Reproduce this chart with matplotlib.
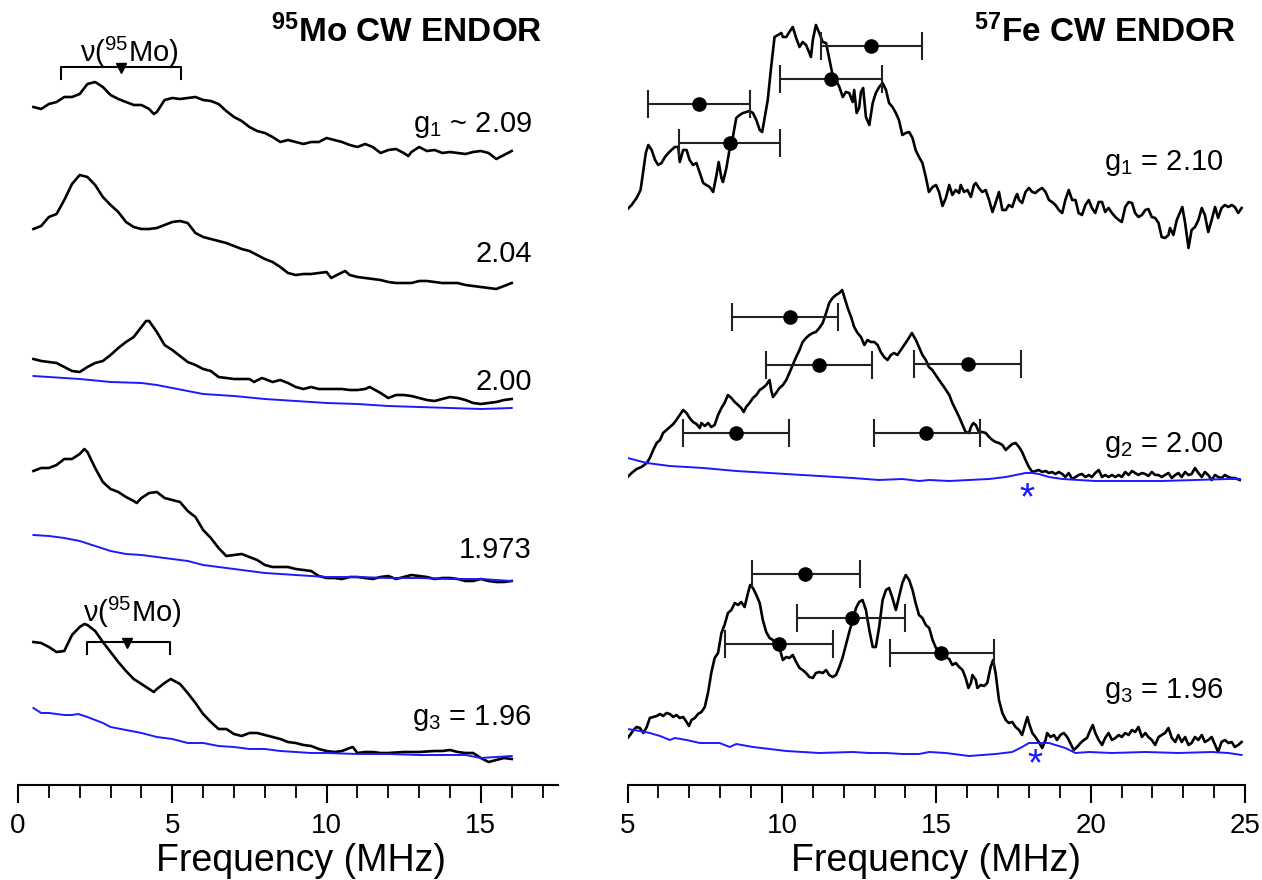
import matplotlib
matplotlib.use("Agg")
import matplotlib.pyplot as plt
import numpy as np

plt.rcParams['font.family'] = ['Liberation Sans', 'DejaVu Sans']
plt.rcParams['mathtext.fontset'] = 'custom'
plt.rcParams['mathtext.rm'] = 'Liberation Sans'
plt.rcParams['mathtext.it'] = 'Liberation Sans:italic'
plt.rcParams['mathtext.bf'] = 'Liberation Sans:bold'

# ---------------- 95Mo CW ENDOR (left) : (frequency MHz, intensity a.u.) ----------------
mo_g209 = [(0.5,678),(0.75,676),(1.0,681),(1.25,683),(1.5,688),(1.75,688),(2.0,691),(2.25,701),(2.5,703),(2.75,698),
           (3.0,690),(3.25,686),(3.5,683),(3.75,680),(4.0,680),(4.25,676),(4.4,671),(4.5,673),(4.75,685),(5.0,687),
           (5.25,686),(5.5,687),(5.75,688),(6.0,685),(6.25,684),(6.5,681),(6.75,674),(7.0,668),(7.25,664),(7.5,658),
           (7.75,654),(8.0,652),(8.25,648),(8.5,643),(8.75,645),(9.0,643),(9.25,641),(9.5,643),(9.75,643),(10.0,647),
           (10.25,645),(10.5,643),(10.75,640),(11.0,638),(11.25,641),(11.5,638),(11.75,632),(12.0,635),(12.25,636),
           (12.5,632),(12.65,629),(12.75,633),(13.0,638),(13.25,634),(13.5,635),(13.75,632),(14.0,633),(14.25,632),
           (14.5,631),(14.75,633),(15.0,634),(15.25,632),(15.5,626),(15.75,630),(16.0,634)]
mo_g204 = [(0.5,556),(0.75,559),(1.0,568),(1.25,571),(1.5,585),(1.75,601),(2.0,610),(2.25,608),(2.5,600),(2.75,588),
           (3.0,580),(3.25,573),(3.5,563),(3.75,558),(4.0,556),(4.25,556),(4.5,557),(4.75,560),(5.0,563),(5.25,564),
           (5.5,562),(5.75,552),(6.0,548),(6.25,546),(6.5,544),(6.75,542),(7.0,539),(7.25,536),(7.5,534),(7.75,530),
           (8.0,526),(8.25,523),(8.5,518),(8.75,512),(9.0,510),(9.25,511),(9.5,511),(9.75,512),(10.0,513),(10.15,507),
           (10.4,511),(10.6,514),(10.75,510),(11.0,508),(11.25,507),(11.5,506),(11.75,505),(12.0,503),(12.25,502),
           (12.5,502),(12.75,502),(13.0,504),(13.25,504),(13.5,503),(13.75,502),(14.0,502),(14.25,502),(14.5,500),
           (14.75,499),(15.0,498),(15.25,497),(15.5,496),(15.75,499),(16.0,502)]
mo_g200 = [(0.5,426),(0.75,424),(1.0,423),(1.25,422),(1.5,418),(1.75,414),(2.0,413),(2.25,418),(2.5,422),(2.75,424),
           (3.0,430),(3.25,437),(3.5,443),(3.75,448),(4.0,458),(4.15,464),(4.25,464),(4.5,453),(4.75,440),(5.0,435),
           (5.25,429),(5.5,423),(5.75,420),(6.0,416),(6.25,414),(6.5,408),(6.75,407),(7.0,406),(7.25,406),(7.5,406),
           (7.65,403),(7.9,407),(8.0,406),(8.25,403),(8.5,405),(8.75,402),(9.0,398),(9.25,396),(9.5,398),(9.75,396),
           (10.0,396),(10.25,396),(10.5,396),(10.75,395),(11.0,395),(11.25,396),(11.4,398),(11.75,392),(12.0,387),
           (12.25,390),(12.5,390),(12.75,389),(13.0,387),(13.25,385),(13.5,384),(13.75,386),(14.0,388),(14.25,387),
           (14.5,385),(14.75,382),(15.0,381),(15.25,382),(15.5,383),(15.75,385),(16.0,386)]
mo_g200_ref = [(0.5,409),(1.0,408),(2.0,406),(3.0,403),(4.0,402),(4.5,400),(5.0,397),(6.0,391),(7.0,389),(8.0,386),
               (9.0,384),(10.0,382),(11.0,381),(12.0,379),(13.0,378),(14.0,377),(15.0,376),(16.0,377)]
mo_g1973 = [(0.5,314),(0.75,317),(1.0,317),(1.25,320),(1.5,326),(1.75,326),(2.0,331),(2.15,336),(2.25,333),(2.5,317),
            (2.75,303),(3.0,296),(3.25,293),(3.5,288),(3.75,284),(3.85,282),(4.0,287),(4.25,292),(4.5,293),(4.75,287),
            (5.0,285),(5.25,283),(5.5,274),(5.75,268),(6.0,255),(6.25,247),(6.5,237),(6.75,229),(7.0,230),(7.25,231),
            (7.5,228),(7.75,225),(8.0,220),(8.25,218),(8.5,218),(8.75,218),(9.0,216),(9.25,215),(9.5,214),(9.75,209),
            (10.0,207),(10.25,207),(10.5,206),(10.75,208),(11.0,208),(11.25,207),(11.5,206),(11.75,208),(12.0,209),
            (12.25,206),(12.5,208),(12.75,210),(13.0,209),(13.25,208),(13.5,206),(13.75,207),(14.0,207),(14.25,206),
            (14.5,204),(14.75,204),(15.0,206),(15.25,204),(15.5,203),(15.75,203),(16.0,204)]
mo_g1973_ref = [(0.5,250),(1.0,249),(1.5,247),(2.0,244),(2.5,239),(3.0,234),(3.5,231),(4.0,230),(4.5,228),(5.0,226),
                (5.5,224),(6.0,220),(6.5,218),(7.0,216),(8.0,212),(9.0,210),(10.0,208),(11.0,208),(12.0,207),
                (13.0,207),(14.0,206),(15.0,206),(16.0,204)]
mo_g196 = [(0.5,143),(0.75,142),(1.0,138),(1.25,133),(1.5,134),(1.75,150),(2.0,158),(2.15,161),(2.25,160),(2.5,154),
           (2.75,143),(3.0,133),(3.25,123),(3.5,114),(3.75,106),(4.0,101),(4.25,96),(4.4,93),(4.5,96),(4.75,102),
           (4.95,106),(5.25,101),(5.5,92),(5.75,82),(6.0,71),(6.25,63),(6.5,56),(6.75,56),(7.0,51),(7.25,49),
           (7.5,52),(7.75,52),(8.0,50),(8.25,48),(8.5,46),(8.75,43),(9.0,42),(9.25,40),(9.5,39),(9.75,36),
           (10.0,34),(10.25,33),(10.5,34),(10.75,37),(10.85,38),(11.0,32),(11.25,33),(11.5,33),(11.75,32),(12.0,32),
           (12.5,33),(13.0,33),(13.5,34),(13.75,34),(14.0,35),(14.25,33),(14.5,32),(14.75,32),(15.0,27),(15.25,23),
           (15.5,25),(15.75,27),(16.0,26)]
mo_g196_ref = [(0.5,77),(0.75,72),(1.0,72),(1.25,71),(1.5,70),(1.75,70),(1.95,71),(2.25,68),(2.5,65),(2.75,62),
               (3.0,58),(3.5,55),(4.0,52),(4.5,48),(5.0,46),(5.5,42),(6.0,42),(6.5,39),(7.0,38),(7.5,36),(8.0,36),
               (8.5,34),(9.0,33),(9.5,32),(10.0,32),(11.0,31),(12.0,31),(13.0,30),(14.0,30),(14.5,30),(15.0,27),
               (15.5,28),(16.0,29)]

mo_labels = ["g$_{\\mathregular{1}}$ ~ 2.09", "2.04", "2.00", "1.973", "g$_{\\mathregular{3}}$ = 1.96"]
mo_label_y = [653, 523, 395, 227, 60]

# nu(95Mo) brackets: left, right, center (triangle), line height, text x, text baseline
nu_left = [1.38, 2.22]
nu_right = [5.29, 4.91]
nu_center = [3.35, 3.52]
nu_y = [718, 143]
nu_text_x = [3.6, 3.69]
nu_text_y = [723, 163]

# ---------------- 57Fe CW ENDOR (right) ----------------
fe_g210 = [(5.00,576),(5.13,580),(5.29,587),(5.42,595),(5.51,615),(5.59,632),(5.67,640),(5.78,635),(5.89,625),(5.99,620),
           (6.10,622),(6.21,628),(6.32,632),(6.42,635),(6.53,638),(6.64,638),(6.69,623),(6.80,635),(6.91,635),(7.01,625),
           (7.12,620),(7.23,622),(7.34,612),(7.45,602),(7.55,600),(7.66,598),(7.77,593),(7.88,610),(7.95,623),(8.04,607),
           (8.09,603),(8.20,617),(8.31,637),(8.41,648),(8.52,667),(8.63,670),(8.74,672),(8.84,673),(8.95,674),(9.06,672),
           (9.17,665),(9.28,655),(9.36,653),(9.44,667),(9.54,685),(9.65,718),(9.76,748),(9.87,750),(9.98,752),(10.03,748),
           (10.14,748),(10.24,753),(10.35,758),(10.46,747),(10.57,738),(10.67,743),(10.78,740),(10.89,732),(10.94,728),
           (11.00,745),(11.10,760),(11.21,752),(11.32,743),(11.43,742),(11.53,727),(11.64,710),(11.75,705),(11.86,698),
           (11.97,688),(12.07,693),(12.18,692),(12.29,683),(12.34,695),(12.42,672),(12.50,677),(12.56,693),(12.63,697),
           (12.72,668),(12.83,660),(12.94,682),(13.04,692),(13.15,698),(13.26,702),(13.37,695),(13.47,682),(13.58,678),
           (13.69,672),(13.79,665),(13.90,650),(14.01,652),(14.12,653),(14.23,647),(14.33,635),(14.44,628),(14.55,622),
           (14.66,608),(14.76,593),(14.88,598),(14.99,600),(15.09,593),(15.20,579),(15.31,587),(15.42,600),(15.52,590),
           (15.63,595),(15.74,592),(15.79,600),(15.90,593),(16.01,595),(16.12,588),(16.22,600),(16.28,602),(16.38,597),
           (16.49,593),(16.60,595),(16.71,585),(16.82,573),(16.92,582),(17.03,593),(17.14,575),(17.25,575),(17.35,580),
           (17.46,578),(17.57,588),(17.62,591),(17.68,585),(17.78,582),(17.89,593),(18.00,597),(18.11,593),(18.21,592),
           (18.32,595),(18.43,597),(18.54,593),(18.65,585),(18.75,583),(18.86,580),(18.97,575),(19.08,572),(19.18,585),
           (19.29,595),(19.40,585),(19.51,585),(19.61,572),(19.72,570),(19.83,580),(19.94,585),(20.04,577),(20.15,572),
           (20.26,583),(20.37,583),(20.47,573),(20.58,577),(20.69,572),(20.80,568),(20.91,565),(21.01,563),(21.12,578),
           (21.23,583),(21.34,582),(21.44,572),(21.55,568),(21.66,570),(21.77,575),(21.87,576),(21.98,568),(22.09,567),
           (22.20,562),(22.30,548),(22.41,547),(22.52,550),(22.57,557),(22.68,550),(22.79,565),(22.90,573),(22.97,578),
           (23.06,562),(23.17,537),(23.27,555),(23.38,558),(23.49,565),(23.60,577),(23.70,570),(23.81,553),(23.92,565),
           (24.03,578),(24.13,567),(24.24,577),(24.35,580),(24.46,578),(24.57,580),(24.67,578),(24.78,572),(24.89,577)]

fe_g200 = [(5.00,308),(5.13,312),(5.29,316),(5.45,318),(5.62,322),(5.72,327),(5.83,335),(5.94,342),(6.05,345),(6.15,352),
           (6.26,355),(6.37,358),(6.48,361),(6.58,365),(6.69,370),(6.80,375),(6.91,372),(7.01,367),(7.12,363),(7.23,361),
           (7.34,357),(7.39,362),(7.50,359),(7.61,362),(7.71,358),(7.82,360),(7.93,370),(8.04,377),(8.14,382),(8.25,390),
           (8.36,387),(8.47,383),(8.58,380),(8.68,377),(8.76,373),(8.84,378),(8.95,382),(9.06,387),(9.17,390),(9.28,395),
           (9.38,397),(9.49,400),(9.60,405),(9.65,395),(9.71,388),(9.81,392),(9.92,397),(10.03,400),(10.14,405),(10.24,412),
           (10.35,420),(10.46,428),(10.57,435),(10.67,443),(10.78,447),(10.89,450),(11.00,452),(11.10,453),(11.21,457),
           (11.32,462),(11.43,472),(11.53,482),(11.64,487),(11.75,490),(11.86,492),(11.95,495),(12.02,488),(12.13,477),
           (12.24,468),(12.34,458),(12.45,452),(12.56,448),(12.67,440),(12.77,445),(12.88,443),(12.99,443),(13.10,440),
           (13.20,433),(13.31,428),(13.42,425),(13.53,430),(13.63,432),(13.74,430),(13.85,435),(13.96,440),(14.07,445),
           (14.21,452),(14.34,445),(14.45,437),(14.55,430),(14.66,425),(14.76,418),(14.87,415),(14.98,410),(15.09,405),
           (15.25,398),(15.42,390),(15.52,382),(15.63,375),(15.74,368),(15.85,360),(15.95,353),(16.06,352),(16.12,358),
           (16.20,362),(16.28,360),(16.38,353),(16.49,353),(16.60,352),(16.71,348),(16.82,345),(16.92,343),(17.03,342),
           (17.14,340),(17.25,335),(17.35,338),(17.46,341),(17.57,342),(17.68,338),(17.78,333),(17.89,325),(18.00,318),
           (18.11,313),(18.21,314),(18.32,315),(18.43,313),(18.54,314),(18.65,312),(18.75,313),(18.86,311),(18.97,313),
           (19.08,311),(19.18,308),(19.29,312),(19.40,306),(19.51,308),(19.61,310),(19.72,311),(19.83,308),(19.94,310),
           (20.04,308),(20.15,312),(20.26,315),(20.37,308),(20.47,310),(20.58,308),(20.69,310),(20.80,308),(20.91,310),
           (21.01,308),(21.12,313),(21.23,310),(21.34,314),(21.44,312),(21.55,310),(21.66,312),(21.77,311),(21.87,309),
           (21.98,313),(22.09,310),(22.20,310),(22.30,308),(22.41,310),(22.52,312),(22.63,307),(22.74,310),(22.84,312),
           (22.95,308),(23.06,313),(23.17,310),(23.27,311),(23.38,317),(23.49,312),(23.60,308),(23.70,313),(23.81,310),
           (23.92,305),(24.03,310),(24.13,308),(24.24,307),(24.35,310),(24.46,308),(24.57,307),(24.67,307),(24.83,305)]
fe_g200_ref = [(5.00,327),(5.62,322),(6.37,319),(7.45,317),(8.52,314),(9.60,312),(10.67,310),(11.75,308),(12.29,307),
               (13.15,305),(13.90,306),(14.45,304),(14.77,305),(15.42,304),(16.06,305),(16.71,306),(17.25,308),
               (17.57,310),(17.89,312),(18.11,312),(18.32,311),(18.65,308),(19.08,306),(19.61,305),(20.15,304),
               (21.23,304),(22.30,304),(23.38,305),(24.46,306),(24.83,306)]

fe_g196 = [(5.00,47),(5.08,50),(5.19,55),(5.29,58),(5.40,57),(5.51,52),(5.62,58),(5.72,67),(5.83,68),(5.94,69),
           (6.05,71),(6.15,69),(6.26,72),(6.37,71),(6.48,68),(6.58,70),(6.69,67),(6.80,68),(6.91,63),(6.99,59),
           (7.07,65),(7.18,67),(7.28,71),(7.39,73),(7.50,78),(7.61,93),(7.71,112),(7.82,127),(7.93,132),(8.04,152),
           (8.14,160),(8.25,172),(8.36,175),(8.47,182),(8.58,180),(8.68,183),(8.79,178),(8.90,192),(8.97,200),(9.06,197),
           (9.17,190),(9.28,182),(9.38,165),(9.49,153),(9.60,147),(9.71,145),(9.81,138),(9.92,137),(10.03,125),(10.14,128),
           (10.24,127),(10.35,130),(10.46,123),(10.57,117),(10.67,115),(10.78,112),(10.89,108),(11.00,107),(11.10,112),
           (11.21,113),(11.32,112),(11.43,115),(11.53,110),(11.64,108),(11.75,110),(11.86,118),(11.97,128),(12.07,140),
           (12.18,153),(12.29,165),(12.40,177),(12.50,183),(12.61,185),(12.72,175),(12.83,155),(12.94,138),(13.04,138),
           (13.15,158),(13.26,185),(13.37,195),(13.47,197),(13.58,187),(13.69,175),(13.79,188),(13.90,202),(14.01,210),
           (14.12,205),(14.23,195),(14.33,182),(14.44,170),(14.55,167),(14.66,160),(14.77,157),(14.88,145),(14.99,137),
           (15.15,132),(15.31,128),(15.42,126),(15.52,120),(15.63,122),(15.74,118),(15.85,115),(15.95,107),(16.04,97),
           (16.12,102),(16.17,110),(16.28,105),(16.33,97),(16.44,100),(16.55,99),(16.65,102),(16.76,118),(16.84,125),
           (16.92,112),(17.03,85),(17.14,72),(17.25,65),(17.35,62),(17.46,63),(17.57,58),(17.68,55),(17.78,50),(17.89,62),
           (17.95,68),(18.00,62),(18.11,52),(18.21,48),(18.32,43),(18.43,37),(18.54,45),(18.59,52),(18.70,48),(18.81,50),
           (18.91,45),(19.02,50),(19.13,52),(19.24,48),(19.34,42),(19.45,35),(19.56,38),(19.67,42),(19.78,45),(19.88,47),
           (19.99,55),(20.07,60),(20.15,52),(20.26,45),(20.37,40),(20.47,47),(20.58,52),(20.69,45),(20.80,47),(20.91,50),
           (21.01,48),(21.12,52),(21.23,50),(21.34,55),(21.44,53),(21.55,58),(21.66,48),(21.77,52),(21.87,48),(21.98,45),
           (22.09,40),(22.20,48),(22.30,50),(22.41,52),(22.52,57),(22.63,47),(22.74,43),(22.84,50),(22.95,43),(23.06,48),
           (23.17,40),(23.27,42),(23.38,48),(23.49,45),(23.60,50),(23.70,43),(23.81,45),(23.92,48),(24.03,40),(24.13,33),
           (24.24,43),(24.35,45),(24.46,42),(24.57,43),(24.67,38),(24.78,40),(24.89,43)]
fe_g196_ref = [(5.00,56),(5.40,54),(5.72,52),(6.05,49),(6.37,45),(6.53,47),(6.91,45),(7.34,42),(7.98,42),(8.31,38),
               (8.52,41),(9.06,38),(10.14,34),(11.21,32),(12.29,33),(12.83,32),(13.37,32),(13.90,31),(14.44,31),
               (14.77,33),(15.31,32),(16.06,29),(16.92,31),(17.46,33),(17.78,38),(18.00,42),(18.32,42),(18.65,42),
               (18.86,40),(19.18,37),(19.51,32),(19.94,33),(20.69,32),(21.77,33),(22.84,32),(23.92,33),(24.46,32),
               (24.89,30)]

fe_labels = ["g$_{\\mathregular{1}}$ = 2.10", "g$_{\\mathregular{2}}$ = 2.00", "g$_{\\mathregular{3}}$ = 1.96"]
fe_label_y = [615, 333, 87]

# error bars: centre (dot), left end, right end, height
eb_x     = [7.32, 8.31, 11.59, 12.90, 10.26, 11.21, 16.03, 8.52, 14.66, 10.76, 12.26, 9.90, 15.15]
eb_left  = [5.67, 6.67,  9.94, 11.27,  8.38,  9.49, 14.28, 6.80, 12.99,  9.03, 10.49, 8.14, 13.50]
eb_right = [8.96, 9.94, 13.23, 14.55, 11.83, 12.93, 17.74, 10.24, 16.41, 12.53, 13.99, 11.64, 16.87]
eb_y     = [681, 642, 706, 739, 468, 420, 421, 352, 352, 211, 167, 141, 132]

# asterisks (blue), glyph centres
star_x = [17.93, 18.19]
star_y = [298, 32]

# ---------------- figure ----------------
W, H = 1262, 880
fig = plt.figure(figsize=(W / 100, H / 100), dpi=100)
bottom = (H - 785) / H
axL = fig.add_axes([18 / W, bottom, 540 / W, 785 / H])
axR = fig.add_axes([627.6 / W, bottom, 617.4 / W, 785 / H])

BLACK_LW = 1.9
BLUE_LW = 1.4
BLUE = '#1a1aff'


def xy(pairs):
    a = np.array(pairs, dtype=float)
    return a[:, 0], a[:, 1]


for tr in [mo_g209, mo_g204, mo_g200, mo_g1973, mo_g196]:
    x, y = xy(tr)
    axL.plot(x, y, color='black', lw=BLACK_LW, solid_joinstyle='round')
for tr in [mo_g200_ref, mo_g1973_ref, mo_g196_ref]:
    x, y = xy(tr)
    axL.plot(x, y, color=BLUE, lw=BLUE_LW)

for lab, yy in zip(mo_labels, mo_label_y):
    axL.text(16.65, yy, lab, ha='right', va='baseline', fontsize=21)

tick_drop = 12
for l, r, c, yy, tx, ty in zip(nu_left, nu_right, nu_center, nu_y, nu_text_x, nu_text_y):
    axL.plot([l, l, r, r], [yy - tick_drop, yy, yy, yy - tick_drop], color='black', lw=1.5)
    axL.plot([c], [yy - 1], marker='v', color='black', markersize=7)
    axL.text(tx, ty, "ν($^{\\mathregular{95}}$Mo)", ha='center', va='baseline', fontsize=21)

axL.text(17.0, 743, "$^{\\mathbf{95}}$Mo CW ENDOR", ha='right', va='baseline', fontsize=24,
         fontweight='bold')

for tr in [fe_g210, fe_g200, fe_g196]:
    x, y = xy(tr)
    axR.plot(x, y, color='black', lw=BLACK_LW, solid_joinstyle='round')
for tr in [fe_g200_ref, fe_g196_ref]:
    x, y = xy(tr)
    axR.plot(x, y, color=BLUE, lw=BLUE_LW)

ebx = np.array(eb_x)
xerr = np.vstack([ebx - np.array(eb_left), np.array(eb_right) - ebx])
axR.errorbar(ebx, eb_y, xerr=xerr, fmt='o', color='black', ecolor='#222222', elinewidth=1.5,
             capsize=10, capthick=1.5, markersize=9.5, zorder=5)

# the '*' glyph sits about 0.58 em above the baseline; shift the baseline down accordingly
STAR_FS = 28
for sx, sy in zip(star_x, star_y):
    axR.annotate('*', (sx, sy), xytext=(0, -0.58 * STAR_FS), textcoords='offset points',
                 color=BLUE, ha='center', va='baseline', fontsize=STAR_FS)

for lab, yy in zip(fe_labels, fe_label_y):
    axR.text(24.3, yy, lab, ha='right', va='baseline', fontsize=21)

axR.text(24.72, 743, "$^{\\mathbf{57}}$Fe CW ENDOR", ha='right', va='baseline', fontsize=24,
         fontweight='bold')

# axes styling
for ax, lim, majors in [(axL, (0, 17.5), [0, 5, 10, 15]), (axR, (5, 25), [5, 10, 15, 20, 25])]:
    ax.set_xlim(*lim)
    ax.set_ylim(0, 785)
    for s in ['left', 'right', 'top']:
        ax.spines[s].set_visible(False)
    ax.spines['bottom'].set_linewidth(1.5)
    ax.set_yticks([])
    ax.set_xticks(majors)
    ax.tick_params(axis='x', which='major', direction='out', length=13, width=1.5, labelsize=20, pad=7)
    ax.tick_params(axis='x', which='minor', direction='out', length=9, width=1.3)
    ax.patch.set_alpha(0)

axL.set_xticks(np.arange(0, 18, 1), minor=True)
axR.set_xticks(np.arange(5, 26, 1), minor=True)

fig.text(301 / W, 1 - 871 / H, "Frequency (MHz)", ha='center', va='baseline', fontsize=27)
fig.text(936 / W, 1 - 871 / H, "Frequency (MHz)", ha='center', va='baseline', fontsize=27)

fig.savefig("out.png", dpi=100)
